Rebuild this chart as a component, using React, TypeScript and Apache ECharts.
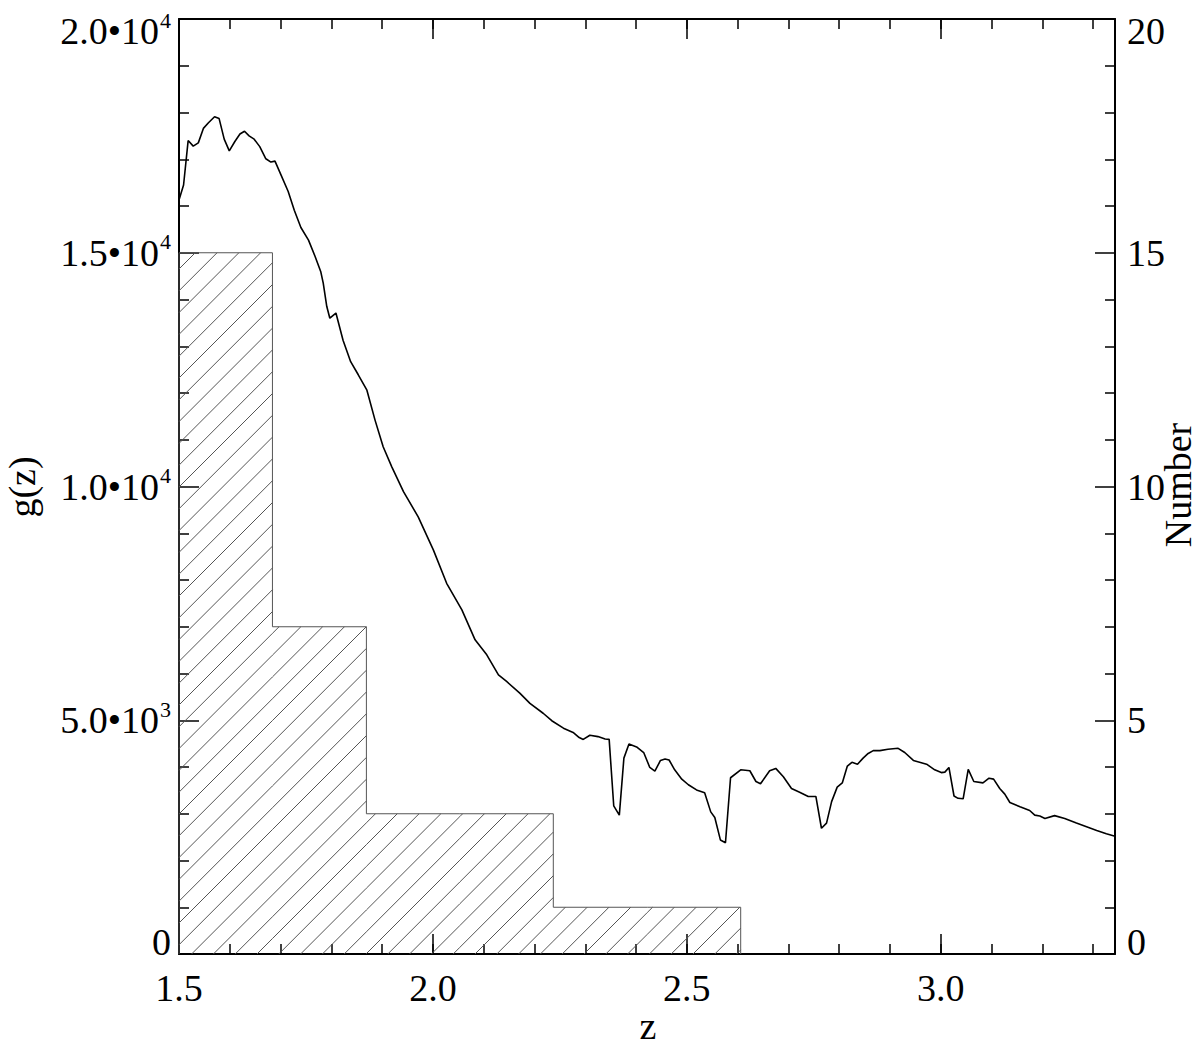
import React, { useEffect, useRef } from 'react';
import * as echarts from 'echarts';

// ---- axis ranges ----
const X_MIN = 1.5;
const X_MAX = 3.343;
const Y_LEFT_MAX = 20000;
const Y_RIGHT_MAX = 20;

// ---- histogram (right axis "Number") ----
const binEdges = [1.5, 1.684, 1.869, 2.053, 2.237, 2.422, 2.606];
const binCounts = [15, 7, 3, 3, 1, 1];

// ---- g(z) curve (left axis) ----
const gzZ = [
  1.500, 1.509, 1.518, 1.528, 1.538, 1.548, 1.558, 1.570, 1.579, 1.589,
  1.599, 1.610, 1.620, 1.629, 1.638, 1.648, 1.659, 1.671, 1.681, 1.689,
  1.701, 1.715, 1.727, 1.740, 1.755, 1.768, 1.779, 1.784, 1.791, 1.797,
  1.809, 1.823, 1.838, 1.853, 1.870, 1.886, 1.902, 1.919, 1.942, 1.971,
  2.001, 2.027, 2.057, 2.083, 2.106, 2.129, 2.145, 2.171, 2.191, 2.217,
  2.234, 2.257, 2.276, 2.288, 2.296, 2.309, 2.325, 2.339, 2.347, 2.356,
  2.367, 2.376, 2.386, 2.401, 2.415, 2.427, 2.437, 2.448, 2.457, 2.465,
  2.476, 2.490, 2.503, 2.519, 2.535, 2.547, 2.555, 2.566, 2.576, 2.586,
  2.606, 2.624, 2.636, 2.645, 2.663, 2.675, 2.690, 2.706, 2.722, 2.739,
  2.754, 2.765, 2.775, 2.785, 2.796, 2.806, 2.816, 2.825, 2.836, 2.847,
  2.857, 2.867, 2.880, 2.896, 2.916, 2.929, 2.946, 2.972, 2.988, 3.001,
  3.008, 3.016, 3.026, 3.034, 3.044, 3.054, 3.065, 3.083, 3.095, 3.104,
  3.116, 3.126, 3.136, 3.156, 3.175, 3.185, 3.195, 3.205, 3.224, 3.244,
  3.267, 3.287, 3.307, 3.326, 3.343,
];
const gzVal = [
  16130, 16450, 17400, 17280, 17350, 17660, 17780, 17910, 17870, 17430,
  17180, 17380, 17540, 17600, 17500, 17430, 17270, 17010, 16940, 16960,
  16660, 16310, 15910, 15540, 15270, 14920, 14600, 14350, 13850, 13600,
  13710, 13130, 12670, 12390, 12060, 11420, 10850, 10420, 9890, 9350,
  8640, 7930, 7360, 6720, 6400, 5970, 5830, 5580, 5360, 5150,
  4990, 4830, 4740, 4630, 4590, 4680, 4650, 4600, 4590, 3170,
  2970, 4190, 4490, 4430, 4310, 3990, 3910, 4140, 4170, 4150,
  3940, 3740, 3620, 3510, 3450, 3040, 2920, 2440, 2380, 3770,
  3940, 3920, 3690, 3640, 3920, 3970, 3790, 3540, 3460, 3370,
  3370, 2690, 2800, 3260, 3570, 3660, 4020, 4100, 4060, 4190,
  4290, 4350, 4350, 4380, 4400, 4310, 4140, 4060, 3940, 3880,
  3890, 3990, 3380, 3330, 3320, 3950, 3690, 3660, 3760, 3740,
  3540, 3420, 3240, 3150, 3070, 2970, 2950, 2900, 2960, 2900,
  2800, 2720, 2640, 2570, 2520,
];

// ---- tick labels ----
const xTickLabels = ['1.5', '2.0', '2.5', '3.0'];
const leftTickValues = [0, 5000, 10000, 15000, 20000];
const leftTickMantissa = ['0', '5.0', '1.0', '1.5', '2.0'];
const leftTickExponent = ['', '3', '4', '4', '4'];
const rightTickLabels = ['0', '5', '10', '15', '20'];

const FONT = '"Liberation Serif", "Times New Roman", serif';
const FS = 38;
const LH = 24;

export default function App() {
  const ref = useRef<HTMLDivElement>(null);

  useEffect(() => {
    if (!ref.current) return;
    const chart = echarts.init(ref.current, undefined, { renderer: 'svg' });

    const histData = binCounts.map((c, i) => [binEdges[i], binEdges[i + 1], c]);
    const outline: number[][] = [[binEdges[0], 0]];
    binCounts.forEach((c, i) => {
      outline.push([binEdges[i], c]);
      outline.push([binEdges[i + 1], c]);
    });
    outline.push([binEdges[binEdges.length - 1], 0]);

    const curve = gzZ.map((z, i) => [z, gzVal[i]]);

    const axisLineStyle = { color: '#000', width: 2 };
    const tickStyle = { color: '#000', width: 1.5 };

    const option: any = {
      animation: false,
      backgroundColor: '#fff',
      grid: { left: 179, right: 85, top: 19, bottom: 93, containLabel: false },
      xAxis: [
        {
          type: 'value', position: 'bottom', min: X_MIN, max: X_MAX, interval: 0.5,
          axisLine: { show: true, lineStyle: axisLineStyle },
          axisTick: { show: true, inside: true, length: 20, lineStyle: tickStyle },
          axisLabel: {
            show: true, margin: 22, fontFamily: FONT, fontSize: FS, color: '#000', lineHeight: LH,
            showMaxLabel: false,
            formatter: (v: number) => {
              const idx = Math.round((v - X_MIN) / 0.5);
              return Math.abs(v - (X_MIN + idx * 0.5)) < 1e-6 ? (xTickLabels[idx] ?? '') : '';
            },
          },
          splitLine: { show: false },
        },
        {
          type: 'value', position: 'bottom', min: X_MIN, max: X_MAX, interval: 0.1,
          axisLine: { show: false },
          axisTick: { show: true, inside: true, length: 10, lineStyle: tickStyle },
          axisLabel: { show: false },
          splitLine: { show: false },
        },
        {
          type: 'value', position: 'top', min: X_MIN, max: X_MAX, interval: 0.1,
          axisLine: { show: true, lineStyle: axisLineStyle },
          axisTick: { show: true, inside: true, length: 10, lineStyle: tickStyle },
          axisLabel: { show: false },
          splitLine: { show: false },
        },
        {
          type: 'value', position: 'top', min: X_MIN, max: X_MAX, interval: 0.5,
          axisLine: { show: false },
          axisTick: { show: true, inside: true, length: 20, lineStyle: tickStyle },
          axisLabel: { show: false },
          splitLine: { show: false },
        },
      ],
      yAxis: [
        {
          type: 'value', position: 'left', min: 0, max: Y_LEFT_MAX, interval: 5000,
          axisLine: { show: true, lineStyle: axisLineStyle },
          axisTick: { show: true, inside: true, length: 20, lineStyle: tickStyle },
          minorTick: { show: true, splitNumber: 5, length: 10, lineStyle: tickStyle },
          axisLabel: {
            show: true, margin: 8, fontFamily: FONT, color: '#000',
            verticalAlignMinLabel: 'bottom',
            verticalAlignMaxLabel: 'top',
            formatter: (v: number) => {
              const i = leftTickValues.indexOf(Math.round(v));
              if (i < 0) return '';
              if (!leftTickExponent[i]) return `{a|${leftTickMantissa[i]}}`;
              return `{a|${leftTickMantissa[i]}•10}{s|${leftTickExponent[i]}}`;
            },
            rich: {
              a: { fontFamily: FONT, fontSize: FS, color: '#000', lineHeight: LH },
              s: { fontFamily: FONT, fontSize: 22, color: '#000', verticalAlign: 'top', padding: [-10, 0, 0, 1] },
            },
          },
          splitLine: { show: false },
        },
        {
          type: 'value', position: 'right', min: 0, max: Y_RIGHT_MAX, interval: 5,
          axisLine: { show: true, lineStyle: axisLineStyle },
          axisTick: { show: true, inside: true, length: 20, lineStyle: tickStyle },
          minorTick: { show: true, splitNumber: 5, length: 10, lineStyle: tickStyle },
          axisLabel: {
            show: true, margin: 12, fontFamily: FONT, fontSize: FS, color: '#000', lineHeight: LH,
            verticalAlignMinLabel: 'bottom',
            verticalAlignMaxLabel: 'top',
            formatter: (v: number) => {
              const i = Math.round(v / 5);
              return rightTickLabels[i] ?? '';
            },
          },
          splitLine: { show: false },
        },
      ],
      graphic: [
        {
          type: 'text', x: 22, y: 487, rotation: Math.PI / 2,
          style: { text: 'g(z)', font: `${FS}px ${FONT}`, lineHeight: 30, fill: '#000', align: 'center', verticalAlign: 'middle' },
        },
        {
          type: 'text', x: 1178, y: 485, rotation: Math.PI / 2,
          style: { text: 'Number', font: `${FS}px ${FONT}`, lineHeight: 28, fill: '#000', align: 'center', verticalAlign: 'middle' },
        },
        {
          type: 'text', x: 648, y: 1026,
          style: { text: 'z', font: `${FS}px ${FONT}`, lineHeight: 30, fill: '#000', align: 'center', verticalAlign: 'middle' },
        },
      ],
      series: [
        {
          type: 'custom',
          xAxisIndex: 0,
          yAxisIndex: 1,
          data: histData,
          encode: { x: [0, 1], y: 2 },
          renderItem: (params: any, api: any) => {
            const p0 = api.coord([api.value(0), api.value(2)]);
            const p1 = api.coord([api.value(1), 0]);
            const left = p0[0], top = p0[1], right = p1[0], bottom = p1[1];
            const S = 21.8;
            const phase = 12;
            const children: any[] = [];
            const cMin = left + top;
            const cMax = right + bottom;
            for (let c = Math.ceil((cMin - phase) / S) * S + phase; c <= cMax; c += S) {
              const xa = Math.max(left, c - bottom);
              const xb = Math.min(right, c - top);
              if (xb > xa) {
                children.push({
                  type: 'line',
                  shape: { x1: xa, y1: c - xa, x2: xb, y2: c - xb },
                  style: { stroke: '#555', lineWidth: 1 },
                });
              }
            }
            return { type: 'group', children };
          },
          z: 1,
        },
        {
          type: 'line',
          xAxisIndex: 0,
          yAxisIndex: 1,
          data: outline,
          symbol: 'none',
          lineStyle: { color: '#555', width: 1 },
          z: 2,
        },
        {
          type: 'line',
          xAxisIndex: 0,
          yAxisIndex: 0,
          data: curve,
          symbol: 'none',
          lineStyle: { color: '#000', width: 1.6 },
          z: 3,
        },
      ],
    };

    chart.setOption(option);
    return () => chart.dispose();
  }, []);

  return (
    <div
      ref={ref}
      style={{ position: 'fixed', left: 0, top: 0, width: 1200, height: 1047, background: '#fff' }}
    />
  );
}
